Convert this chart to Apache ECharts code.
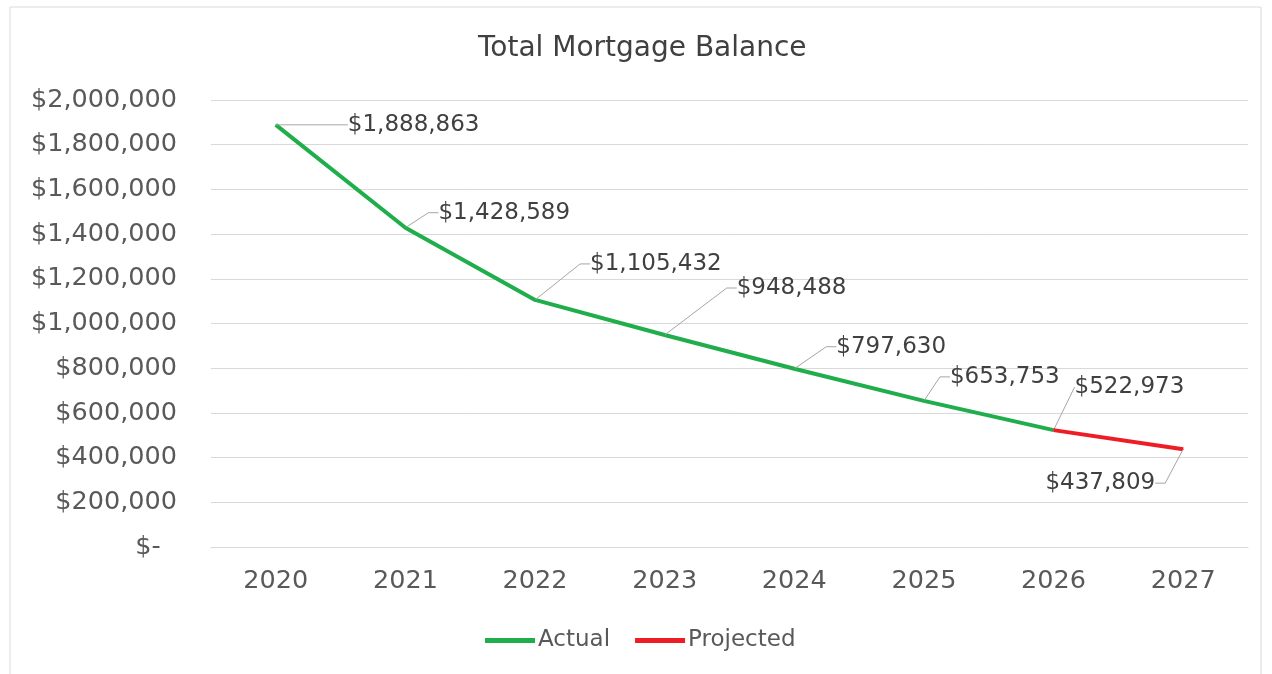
<!DOCTYPE html>
<html>
<head>
<meta charset="utf-8">
<script src="https://cdn.jsdelivr.net/npm/echarts@6/dist/echarts.min.js"></script>
<style>
  html, body { margin: 0; padding: 0; background: #fff; }
  #chart { width: 1272px; height: 674px; }
</style>
</head>
<body>
<div id="chart"></div>
<script>
// data
var years = ['2020', '2021', '2022', '2023', '2024', '2025', '2026', '2027']
var actual = [1888863, 1428589, 1105432, 948488, 797630, 653753, 522973, '-']
var projected = ['-', '-', '-', '-', '-', '-', 522973, 437809]
var yTicks = { min: 0, max: 2000000, step: 200000 }

// where each value label sits relative to its point (dx, dy, align)
var labelPos = [
  [72, 0, 'left'], [33, -15, 'left'], [55, -36, 'left'], [72, -47, 'left'],
  [42, -22, 'left'], [26, -24, 'left'], [21, -43, 'left'], [-28, 34, 'right']
]

var FONT = '"DejaVu Sans", Verdana, sans-serif'
var GREY = '#595959'

function money(v) {
  return '$' + Number(v).toLocaleString('en-US')
}

var myChart = echarts.init(document.getElementById('chart'))

function labelLayout(params) {
  var p = labelPos[params.dataIndex]
  var r = params.rect
  return {
    x: r.x + r.width / 2 + p[0],
    y: r.y + r.height / 2 + p[1],
    align: p[2],
    verticalAlign: 'middle'
  }
}

var lineLabel = {
  show: true,
  formatter: function(p) { return money(p.value) },
  fontSize: 23,
  fontFamily: FONT,
  color: '#404040'
}
var leader = {
  show: true,
  length2: 10,
  lineStyle: { color: '#a6a6a6', width: 1 }
}

// the 2026 label gets a straight leader, no elbow
var actualData = actual.map(function(v, i) {
  return i === 6 ? { value: v, labelLine: { length2: 0 } } : v
})
// 2026 is labelled once, by the Actual series
var projectedData = projected.map(function(v, i) {
  return i === 6 ? { value: v, label: { show: false }, labelLine: { show: false } } : v
})

var option = {
  animation: false,
  backgroundColor: '#fff',
  textStyle: { fontFamily: FONT },
  graphic: [{
    type: 'rect',
    silent: true,
    shape: { x: 10, y: 7, width: 1251, height: 700 },
    style: { fill: 'none', stroke: '#d9d9d9', lineWidth: 1 }
  }],
  title: {
    text: 'Total Mortgage Balance',
    left: 473,
    top: 30,
    textStyle: { fontSize: 28, fontWeight: 'normal', color: '#404040', fontFamily: FONT }
  },
  legend: {
    left: 480,
    top: 624,
    itemWidth: 50,
    itemHeight: 5,
    itemGap: 25,
    icon: 'rect',
    textStyle: { fontSize: 23, color: GREY, fontFamily: FONT, padding: [0, 0, 0, -2] },
    data: ['Actual', 'Projected']
  },
  grid: { left: 211, right: 24, top: 100, bottom: 127 },
  xAxis: {
    type: 'category',
    data: years,
    boundaryGap: true,
    axisLine: { lineStyle: { color: '#d9d9d9' } },
    axisTick: { show: false },
    axisLabel: { fontSize: 25.5, color: GREY, margin: 21, fontFamily: FONT }
  },
  yAxis: {
    type: 'value',
    min: yTicks.min,
    max: yTicks.max,
    interval: yTicks.step,
    axisLine: { show: false },
    axisTick: { show: false },
    splitLine: { lineStyle: { color: '#d9d9d9', width: 1 } },
    axisLabel: {
      fontSize: 25.5,
      color: GREY,
      margin: 34,
      fontFamily: FONT,
      formatter: function(v) { return v === 0 ? '$-  ' : money(v) }
    }
  },
  series: [{
    name: 'Actual',
    type: 'line',
    data: actualData,
    color: '#1fae4b',
    lineStyle: { width: 4, color: '#1fae4b' },
    showSymbol: true,
    symbol: 'circle',
    symbolSize: 1,
    label: lineLabel,
    labelLine: leader,
    labelLayout: labelLayout,
    z: 2
  }, {
    name: 'Projected',
    type: 'line',
    data: projectedData,
    color: '#ee1c25',
    lineStyle: { width: 4, color: '#ee1c25' },
    showSymbol: true,
    symbol: 'circle',
    symbolSize: 1,
    label: lineLabel,
    labelLine: leader,
    labelLayout: labelLayout,
    z: 3
  }]
}

myChart.setOption(option)
</script>
</body>
</html>
